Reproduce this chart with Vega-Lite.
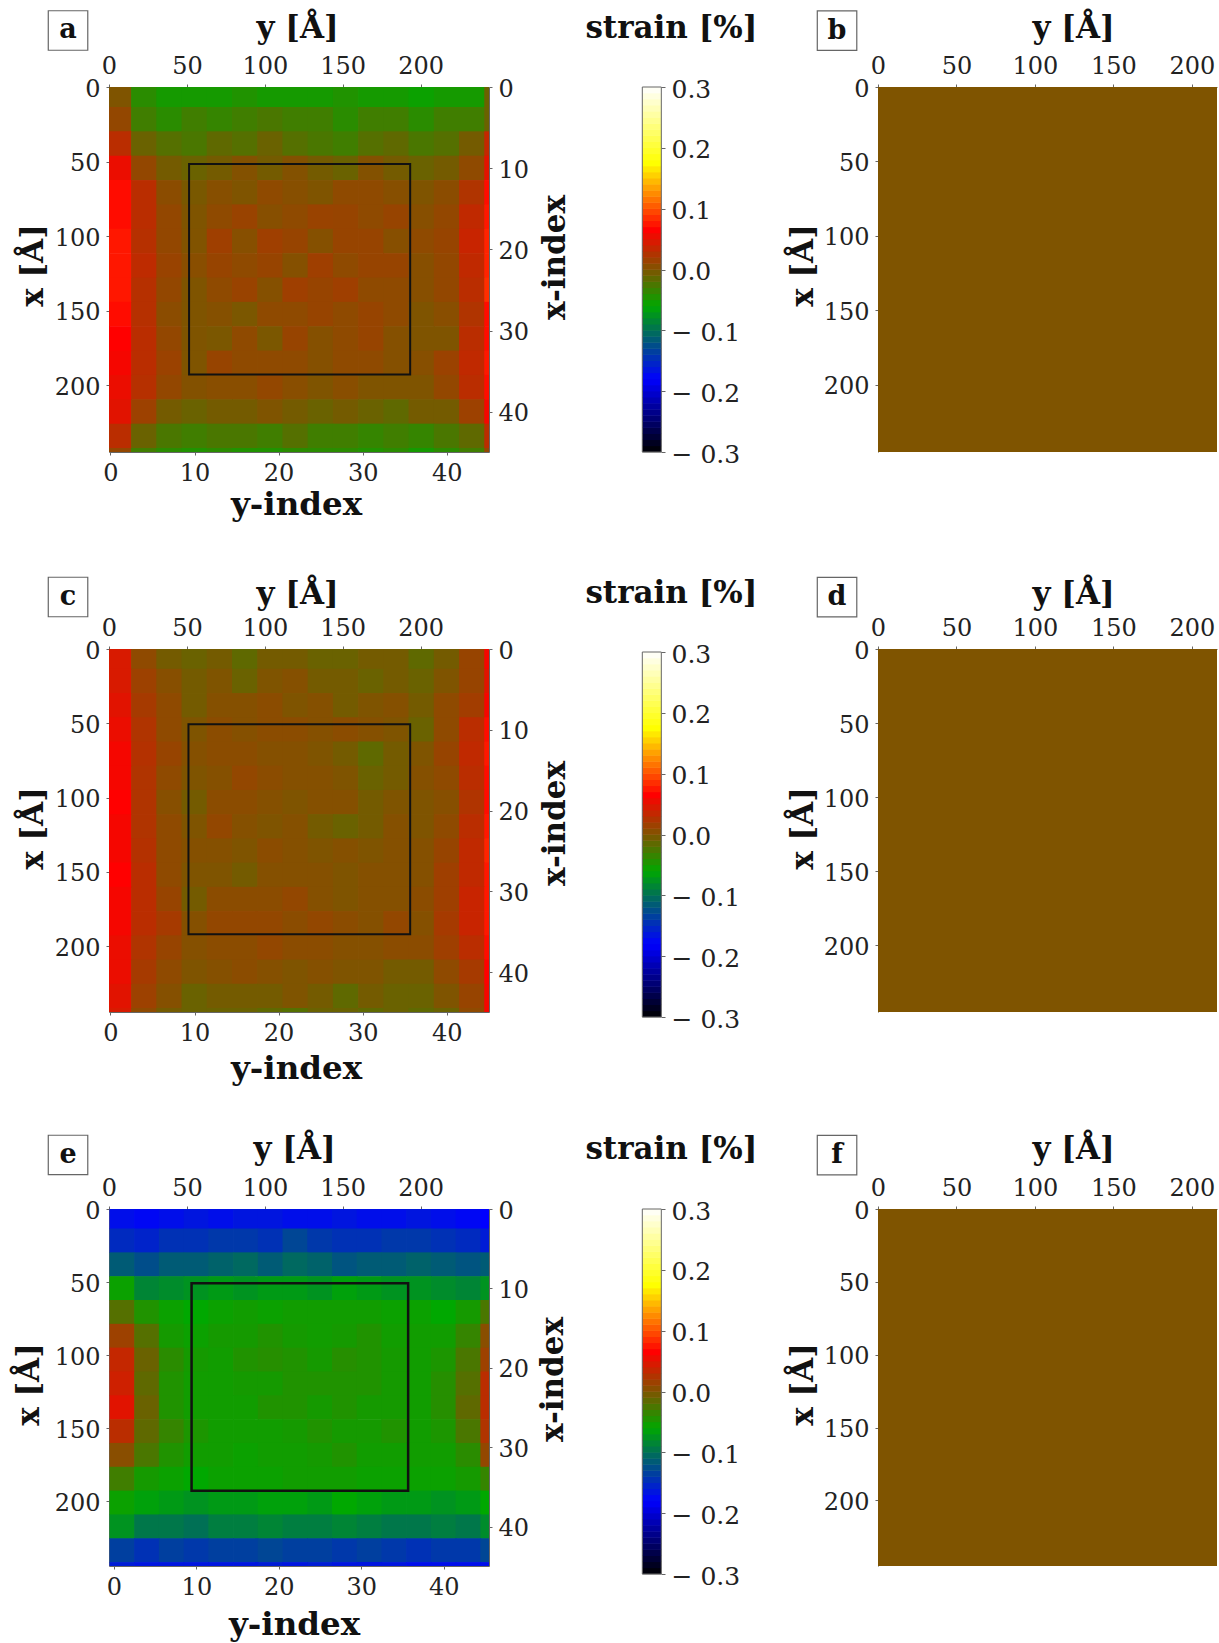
{"$schema":"https://vega.github.io/schema/vega-lite/v6.json","autosize":{"type":"none"},"padding":{"left":109,"top":87,"right":1110,"bottom":1556},"background":"white","bounds":"flush","align":"each","columns":2,"spacing":{"row":197,"column":389},
"config":{"view":{"stroke":null},"axis":{"grid":false,"labelFont":"DejaVu Serif","labelFontSize":24,"labelColor":"#222","titleFont":"DejaVu Serif","titleFontWeight":"bold","titleFontSize":31,"titleColor":"#111","domainColor":"#666","tickColor":"#666","tickSize":3,"labelPadding":6,"labelFlush":false,"labelOverlap":false,"titleBaseline":"middle","titleAlign":"center"},"rect":{"strokeWidth":0}},
"datasets":{
"bar":[{"v":-0.295},{"v":-0.285},{"v":-0.275},{"v":-0.265},{"v":-0.255},{"v":-0.245},{"v":-0.235},{"v":-0.225},{"v":-0.215},{"v":-0.205},{"v":-0.195},{"v":-0.185},{"v":-0.175},{"v":-0.165},{"v":-0.155},{"v":-0.145},{"v":-0.135},{"v":-0.125},{"v":-0.115},{"v":-0.105},{"v":-0.095},{"v":-0.085},{"v":-0.075},{"v":-0.065},{"v":-0.055},{"v":-0.045},{"v":-0.035},{"v":-0.025},{"v":-0.015},{"v":-0.005},{"v":0.005},{"v":0.015},{"v":0.025},{"v":0.035},{"v":0.045},{"v":0.055},{"v":0.065},{"v":0.075},{"v":0.085},{"v":0.095},{"v":0.105},{"v":0.115},{"v":0.125},{"v":0.135},{"v":0.145},{"v":0.155},{"v":0.165},{"v":0.175},{"v":0.185},{"v":0.195},{"v":0.205},{"v":0.215},{"v":0.225},{"v":0.235},{"v":0.245},{"v":0.255},{"v":0.265},{"v":0.275},{"v":0.285},{"v":0.295}],
"a":[
{"i":1,"j":1,"v":0},{"i":4,"j":1,"v":-0.04},{"i":7,"j":1,"v":-0.05},{"i":10,"j":1,"v":-0.05},{"i":13,"j":1,"v":-0.05},{"i":16,"j":1,"v":-0.045},{"i":19,"j":1,"v":-0.05},{"i":22,"j":1,"v":-0.05},{"i":25,"j":1,"v":-0.05},{"i":28,"j":1,"v":-0.045},{"i":31,"j":1,"v":-0.05},{"i":34,"j":1,"v":-0.05},{"i":37,"j":1,"v":-0.055},{"i":40,"j":1,"v":-0.05},{"i":43,"j":1,"v":-0.05},{"i":46,"j":1,"v":-0.01},
{"i":1,"j":4,"v":0.01},{"i":4,"j":4,"v":-0.03},{"i":7,"j":4,"v":-0.04},{"i":10,"j":4,"v":-0.03},{"i":13,"j":4,"v":-0.035},{"i":16,"j":4,"v":-0.03},{"i":19,"j":4,"v":-0.025},{"i":22,"j":4,"v":-0.03},{"i":25,"j":4,"v":-0.03},{"i":28,"j":4,"v":-0.04},{"i":31,"j":4,"v":-0.03},{"i":34,"j":4,"v":-0.03},{"i":37,"j":4,"v":-0.04},{"i":40,"j":4,"v":-0.03},{"i":43,"j":4,"v":-0.03},{"i":46,"j":4,"v":-0.01},
{"i":1,"j":7,"v":0.03},{"i":4,"j":7,"v":-0.01},{"i":7,"j":7,"v":-0.02},{"i":10,"j":7,"v":-0.025},{"i":13,"j":7,"v":-0.015},{"i":16,"j":7,"v":-0.02},{"i":19,"j":7,"v":-0.01},{"i":22,"j":7,"v":-0.02},{"i":25,"j":7,"v":-0.025},{"i":28,"j":7,"v":-0.03},{"i":31,"j":7,"v":-0.02},{"i":34,"j":7,"v":-0.015},{"i":37,"j":7,"v":-0.025},{"i":40,"j":7,"v":-0.02},{"i":43,"j":7,"v":-0.005},{"i":46,"j":7,"v":0.035},
{"i":1,"j":10,"v":0.055},{"i":4,"j":10,"v":0.01},{"i":7,"j":10,"v":-0.005},{"i":10,"j":10,"v":-0.01},{"i":13,"j":10,"v":-0.005},{"i":16,"j":10,"v":0.002},{"i":19,"j":10,"v":-0.005},{"i":22,"j":10,"v":0.002},{"i":25,"j":10,"v":-0.005},{"i":28,"j":10,"v":-0.01},{"i":31,"j":10,"v":0.002},{"i":34,"j":10,"v":-0.005},{"i":37,"j":10,"v":-0.01},{"i":40,"j":10,"v":-0.005},{"i":43,"j":10,"v":0.008},{"i":46,"j":10,"v":0.05},
{"i":1,"j":13,"v":0.07},{"i":4,"j":13,"v":0.03},{"i":7,"j":13,"v":0.006},{"i":10,"j":13,"v":-0.003},{"i":13,"j":13,"v":0.004},{"i":16,"j":13,"v":0},{"i":19,"j":13,"v":0.008},{"i":22,"j":13,"v":0.004},{"i":25,"j":13,"v":0},{"i":28,"j":13,"v":0.008},{"i":31,"j":13,"v":0.008},{"i":34,"j":13,"v":0.004},{"i":37,"j":13,"v":0},{"i":40,"j":13,"v":0.006},{"i":43,"j":13,"v":0.025},{"i":46,"j":13,"v":0.07},
{"i":1,"j":16,"v":0.07},{"i":4,"j":16,"v":0.03},{"i":7,"j":16,"v":0.01},{"i":10,"j":16,"v":0},{"i":13,"j":16,"v":0.008},{"i":16,"j":16,"v":0.013},{"i":19,"j":16,"v":0.004},{"i":22,"j":16,"v":0.008},{"i":25,"j":16,"v":0.013},{"i":28,"j":16,"v":0.012},{"i":31,"j":16,"v":0.008},{"i":34,"j":16,"v":0.012},{"i":37,"j":16,"v":0.004},{"i":40,"j":16,"v":0.01},{"i":43,"j":16,"v":0.033},{"i":46,"j":16,"v":0.075},
{"i":1,"j":19,"v":0.075},{"i":4,"j":19,"v":0.028},{"i":7,"j":19,"v":0.01},{"i":10,"j":19,"v":0.001},{"i":13,"j":19,"v":0.016},{"i":16,"j":19,"v":0.004},{"i":19,"j":19,"v":0.016},{"i":22,"j":19,"v":0.012},{"i":25,"j":19,"v":0.003},{"i":28,"j":19,"v":0.012},{"i":31,"j":19,"v":0.012},{"i":34,"j":19,"v":0.004},{"i":37,"j":19,"v":0.008},{"i":40,"j":19,"v":0.012},{"i":43,"j":19,"v":0.037},{"i":46,"j":19,"v":0.08},
{"i":1,"j":22,"v":0.075},{"i":4,"j":22,"v":0.032},{"i":7,"j":22,"v":0.013},{"i":10,"j":22,"v":0.005},{"i":13,"j":22,"v":0.012},{"i":16,"j":22,"v":0.008},{"i":19,"j":22,"v":0.012},{"i":22,"j":22,"v":0.003},{"i":25,"j":22,"v":0.016},{"i":28,"j":22,"v":0.008},{"i":31,"j":22,"v":0.012},{"i":34,"j":22,"v":0.012},{"i":37,"j":22,"v":0.004},{"i":40,"j":22,"v":0.01},{"i":43,"j":22,"v":0.033},{"i":46,"j":22,"v":0.08},
{"i":1,"j":25,"v":0.075},{"i":4,"j":25,"v":0.028},{"i":7,"j":25,"v":0.01},{"i":10,"j":25,"v":0},{"i":13,"j":25,"v":0.008},{"i":16,"j":25,"v":0.013},{"i":19,"j":25,"v":0.003},{"i":22,"j":25,"v":0.016},{"i":25,"j":25,"v":0.012},{"i":28,"j":25,"v":0.016},{"i":31,"j":25,"v":0.008},{"i":34,"j":25,"v":0.008},{"i":37,"j":25,"v":0.004},{"i":40,"j":25,"v":0.01},{"i":43,"j":25,"v":0.03},{"i":46,"j":25,"v":0.085},
{"i":1,"j":28,"v":0.07},{"i":4,"j":28,"v":0.028},{"i":7,"j":28,"v":0.006},{"i":10,"j":28,"v":0},{"i":13,"j":28,"v":0.003},{"i":16,"j":28,"v":-0.002},{"i":19,"j":28,"v":0.008},{"i":22,"j":28,"v":0.008},{"i":25,"j":28,"v":0.012},{"i":28,"j":28,"v":0.008},{"i":31,"j":28,"v":0.012},{"i":34,"j":28,"v":0.008},{"i":37,"j":28,"v":0},{"i":40,"j":28,"v":0.005},{"i":43,"j":28,"v":0.025},{"i":46,"j":28,"v":0.07},
{"i":1,"j":31,"v":0.065},{"i":4,"j":31,"v":0.03},{"i":7,"j":31,"v":0.01},{"i":10,"j":31,"v":0},{"i":13,"j":31,"v":-0.002},{"i":16,"j":31,"v":0.008},{"i":19,"j":31,"v":-0.002},{"i":22,"j":31,"v":0.012},{"i":25,"j":31,"v":0.003},{"i":28,"j":31,"v":0.008},{"i":31,"j":31,"v":0.012},{"i":34,"j":31,"v":0.003},{"i":37,"j":31,"v":0},{"i":40,"j":31,"v":0},{"i":43,"j":31,"v":0.03},{"i":46,"j":31,"v":0.07},
{"i":1,"j":34,"v":0.06},{"i":4,"j":34,"v":0.03},{"i":7,"j":34,"v":0.014},{"i":10,"j":34,"v":0},{"i":13,"j":34,"v":0.012},{"i":16,"j":34,"v":0.008},{"i":19,"j":34,"v":0.008},{"i":22,"j":34,"v":0.008},{"i":25,"j":34,"v":0.003},{"i":28,"j":34,"v":0.008},{"i":31,"j":34,"v":0.008},{"i":34,"j":34,"v":0.003},{"i":37,"j":34,"v":0.004},{"i":40,"j":34,"v":0.014},{"i":43,"j":34,"v":0.033},{"i":46,"j":34,"v":0.075},
{"i":1,"j":37,"v":0.055},{"i":4,"j":37,"v":0.028},{"i":7,"j":37,"v":0.01},{"i":10,"j":37,"v":0.002},{"i":13,"j":37,"v":0.005},{"i":16,"j":37,"v":0.005},{"i":19,"j":37,"v":0.01},{"i":22,"j":37,"v":0.005},{"i":25,"j":37,"v":0},{"i":28,"j":37,"v":0.005},{"i":31,"j":37,"v":0},{"i":34,"j":37,"v":0},{"i":37,"j":37,"v":0},{"i":40,"j":37,"v":0.01},{"i":43,"j":37,"v":0.03},{"i":46,"j":37,"v":0.07},
{"i":1,"j":40,"v":0.05},{"i":4,"j":40,"v":0.015},{"i":7,"j":40,"v":-0.005},{"i":10,"j":40,"v":-0.01},{"i":13,"j":40,"v":-0.005},{"i":16,"j":40,"v":-0.005},{"i":19,"j":40,"v":0},{"i":22,"j":40,"v":-0.005},{"i":25,"j":40,"v":-0.01},{"i":28,"j":40,"v":-0.005},{"i":31,"j":40,"v":-0.01},{"i":34,"j":40,"v":-0.015},{"i":37,"j":40,"v":-0.005},{"i":40,"j":40,"v":-0.005},{"i":43,"j":40,"v":0.015},{"i":46,"j":40,"v":0.06},
{"i":1,"j":43,"v":0.03},{"i":4,"j":43,"v":-0.01},{"i":7,"j":43,"v":-0.025},{"i":10,"j":43,"v":-0.03},{"i":13,"j":43,"v":-0.025},{"i":16,"j":43,"v":-0.025},{"i":19,"j":43,"v":-0.03},{"i":22,"j":43,"v":-0.02},{"i":25,"j":43,"v":-0.03},{"i":28,"j":43,"v":-0.03},{"i":31,"j":43,"v":-0.035},{"i":34,"j":43,"v":-0.03},{"i":37,"j":43,"v":-0.035},{"i":40,"j":43,"v":-0.025},{"i":43,"j":43,"v":-0.015},{"i":46,"j":43,"v":0.03},
{"i":1,"j":46,"v":0.01},{"i":4,"j":46,"v":-0.03},{"i":7,"j":46,"v":-0.04},{"i":10,"j":46,"v":-0.045},{"i":13,"j":46,"v":-0.04},{"i":16,"j":46,"v":-0.045},{"i":19,"j":46,"v":-0.045},{"i":22,"j":46,"v":-0.04},{"i":25,"j":46,"v":-0.04},{"i":28,"j":46,"v":-0.04},{"i":31,"j":46,"v":-0.045},{"i":34,"j":46,"v":-0.04},{"i":37,"j":46,"v":-0.05},{"i":40,"j":46,"v":-0.04},{"i":43,"j":46,"v":-0.03},{"i":46,"j":46,"v":0.01}],
"c":[
{"i":1,"j":1,"v":0.045},{"i":4,"j":1,"v":0.008},{"i":7,"j":1,"v":-0.005},{"i":10,"j":1,"v":-0.01},{"i":13,"j":1,"v":-0.005},{"i":16,"j":1,"v":-0.015},{"i":19,"j":1,"v":-0.005},{"i":22,"j":1,"v":-0.005},{"i":25,"j":1,"v":-0.01},{"i":28,"j":1,"v":-0.01},{"i":31,"j":1,"v":-0.005},{"i":34,"j":1,"v":-0.005},{"i":37,"j":1,"v":-0.015},{"i":40,"j":1,"v":-0.005},{"i":43,"j":1,"v":0.012},{"i":46,"j":1,"v":0.06},
{"i":1,"j":4,"v":0.045},{"i":4,"j":4,"v":0.015},{"i":7,"j":4,"v":0.004},{"i":10,"j":4,"v":-0.005},{"i":13,"j":4,"v":0},{"i":16,"j":4,"v":-0.01},{"i":19,"j":4,"v":0},{"i":22,"j":4,"v":0.003},{"i":25,"j":4,"v":-0.005},{"i":28,"j":4,"v":-0.005},{"i":31,"j":4,"v":-0.01},{"i":34,"j":4,"v":-0.005},{"i":37,"j":4,"v":-0.01},{"i":40,"j":4,"v":0},{"i":43,"j":4,"v":0.012},{"i":46,"j":4,"v":0.05},
{"i":1,"j":7,"v":0.05},{"i":4,"j":7,"v":0.02},{"i":7,"j":7,"v":0.008},{"i":10,"j":7,"v":-0.005},{"i":13,"j":7,"v":0.003},{"i":16,"j":7,"v":0.003},{"i":19,"j":7,"v":0.006},{"i":22,"j":7,"v":0},{"i":25,"j":7,"v":0.003},{"i":28,"j":7,"v":-0.005},{"i":31,"j":7,"v":0},{"i":34,"j":7,"v":0.003},{"i":37,"j":7,"v":-0.005},{"i":40,"j":7,"v":0.008},{"i":43,"j":7,"v":0.018},{"i":46,"j":7,"v":0.06},
{"i":1,"j":10,"v":0.055},{"i":4,"j":10,"v":0.025},{"i":7,"j":10,"v":0.008},{"i":10,"j":10,"v":0},{"i":13,"j":10,"v":0.006},{"i":16,"j":10,"v":0.003},{"i":19,"j":10,"v":0.006},{"i":22,"j":10,"v":0.006},{"i":25,"j":10,"v":0.003},{"i":28,"j":10,"v":0.006},{"i":31,"j":10,"v":0.003},{"i":34,"j":10,"v":0},{"i":37,"j":10,"v":-0.01},{"i":40,"j":10,"v":0.008},{"i":43,"j":10,"v":0.03},{"i":46,"j":10,"v":0.07},
{"i":1,"j":13,"v":0.06},{"i":4,"j":13,"v":0.027},{"i":7,"j":13,"v":0.012},{"i":10,"j":13,"v":0.003},{"i":13,"j":13,"v":0.006},{"i":16,"j":13,"v":0.006},{"i":19,"j":13,"v":0.003},{"i":22,"j":13,"v":0.003},{"i":25,"j":13,"v":0},{"i":28,"j":13,"v":-0.005},{"i":31,"j":13,"v":-0.015},{"i":34,"j":13,"v":-0.005},{"i":37,"j":13,"v":0},{"i":40,"j":13,"v":0.012},{"i":43,"j":13,"v":0.033},{"i":46,"j":13,"v":0.075},
{"i":1,"j":16,"v":0.06},{"i":4,"j":16,"v":0.025},{"i":7,"j":16,"v":0.008},{"i":10,"j":16,"v":0},{"i":13,"j":16,"v":0.003},{"i":16,"j":16,"v":0.01},{"i":19,"j":16,"v":0.006},{"i":22,"j":16,"v":0.003},{"i":25,"j":16,"v":0.003},{"i":28,"j":16,"v":0},{"i":31,"j":16,"v":-0.01},{"i":34,"j":16,"v":-0.005},{"i":37,"j":16,"v":0.003},{"i":40,"j":16,"v":0.008},{"i":43,"j":16,"v":0.03},{"i":46,"j":16,"v":0.07},
{"i":1,"j":19,"v":0.065},{"i":4,"j":19,"v":0.025},{"i":7,"j":19,"v":0.004},{"i":10,"j":19,"v":-0.005},{"i":13,"j":19,"v":0.006},{"i":16,"j":19,"v":0.006},{"i":19,"j":19,"v":0.003},{"i":22,"j":19,"v":0},{"i":25,"j":19,"v":0.003},{"i":28,"j":19,"v":0.003},{"i":31,"j":19,"v":-0.005},{"i":34,"j":19,"v":0},{"i":37,"j":19,"v":0},{"i":40,"j":19,"v":0.004},{"i":43,"j":19,"v":0.025},{"i":46,"j":19,"v":0.07},
{"i":1,"j":22,"v":0.06},{"i":4,"j":22,"v":0.025},{"i":7,"j":22,"v":0.008},{"i":10,"j":22,"v":0},{"i":13,"j":22,"v":0.01},{"i":16,"j":22,"v":0.003},{"i":19,"j":22,"v":0},{"i":22,"j":22,"v":0.003},{"i":25,"j":22,"v":-0.005},{"i":28,"j":22,"v":-0.01},{"i":31,"j":22,"v":-0.005},{"i":34,"j":22,"v":0.003},{"i":37,"j":22,"v":0},{"i":40,"j":22,"v":0.008},{"i":43,"j":22,"v":0.03},{"i":46,"j":22,"v":0.075},
{"i":1,"j":25,"v":0.06},{"i":4,"j":25,"v":0.027},{"i":7,"j":25,"v":0.008},{"i":10,"j":25,"v":0.003},{"i":13,"j":25,"v":0.003},{"i":16,"j":25,"v":0},{"i":19,"j":25,"v":0.006},{"i":22,"j":25,"v":0.003},{"i":25,"j":25,"v":0},{"i":28,"j":25,"v":0.003},{"i":31,"j":25,"v":0},{"i":34,"j":25,"v":0.003},{"i":37,"j":25,"v":0.003},{"i":40,"j":25,"v":0.012},{"i":43,"j":25,"v":0.033},{"i":46,"j":25,"v":0.08},
{"i":1,"j":28,"v":0.065},{"i":4,"j":28,"v":0.03},{"i":7,"j":28,"v":0.008},{"i":10,"j":28,"v":0},{"i":13,"j":28,"v":0},{"i":16,"j":28,"v":-0.005},{"i":19,"j":28,"v":0.003},{"i":22,"j":28,"v":0.003},{"i":25,"j":28,"v":0.003},{"i":28,"j":28,"v":0},{"i":31,"j":28,"v":0.003},{"i":34,"j":28,"v":0.003},{"i":37,"j":28,"v":0.003},{"i":40,"j":28,"v":0.016},{"i":43,"j":28,"v":0.033},{"i":46,"j":28,"v":0.075},
{"i":1,"j":31,"v":0.06},{"i":4,"j":31,"v":0.03},{"i":7,"j":31,"v":0.012},{"i":10,"j":31,"v":-0.005},{"i":13,"j":31,"v":0.006},{"i":16,"j":31,"v":0.006},{"i":19,"j":31,"v":0.006},{"i":22,"j":31,"v":0.01},{"i":25,"j":31,"v":0.003},{"i":28,"j":31,"v":0},{"i":31,"j":31,"v":0.003},{"i":34,"j":31,"v":0.003},{"i":37,"j":31,"v":0.006},{"i":40,"j":31,"v":0.016},{"i":43,"j":31,"v":0.037},{"i":46,"j":31,"v":0.075},
{"i":1,"j":34,"v":0.06},{"i":4,"j":34,"v":0.03},{"i":7,"j":34,"v":0.02},{"i":10,"j":34,"v":0.003},{"i":13,"j":34,"v":0.01},{"i":16,"j":34,"v":0.01},{"i":19,"j":34,"v":0.01},{"i":22,"j":34,"v":0.006},{"i":25,"j":34,"v":0.01},{"i":28,"j":34,"v":0.006},{"i":31,"j":34,"v":0.003},{"i":34,"j":34,"v":0.01},{"i":37,"j":34,"v":0.003},{"i":40,"j":34,"v":0.02},{"i":43,"j":34,"v":0.037},{"i":46,"j":34,"v":0.075},
{"i":1,"j":37,"v":0.055},{"i":4,"j":37,"v":0.025},{"i":7,"j":37,"v":0.012},{"i":10,"j":37,"v":0.003},{"i":13,"j":37,"v":0.006},{"i":16,"j":37,"v":0.006},{"i":19,"j":37,"v":0.01},{"i":22,"j":37,"v":0.006},{"i":25,"j":37,"v":0.006},{"i":28,"j":37,"v":0.003},{"i":31,"j":37,"v":0.003},{"i":34,"j":37,"v":0.006},{"i":37,"j":37,"v":0.006},{"i":40,"j":37,"v":0.016},{"i":43,"j":37,"v":0.03},{"i":46,"j":37,"v":0.07},
{"i":1,"j":40,"v":0.055},{"i":4,"j":40,"v":0.02},{"i":7,"j":40,"v":0.008},{"i":10,"j":40,"v":0},{"i":13,"j":40,"v":0.003},{"i":16,"j":40,"v":0.006},{"i":19,"j":40,"v":0.003},{"i":22,"j":40,"v":0},{"i":25,"j":40,"v":0.003},{"i":28,"j":40,"v":0},{"i":31,"j":40,"v":0},{"i":34,"j":40,"v":-0.005},{"i":37,"j":40,"v":-0.005},{"i":40,"j":40,"v":0.008},{"i":43,"j":40,"v":0.02},{"i":46,"j":40,"v":0.065},
{"i":1,"j":43,"v":0.05},{"i":4,"j":43,"v":0.015},{"i":7,"j":43,"v":0.003},{"i":10,"j":43,"v":-0.01},{"i":13,"j":43,"v":-0.005},{"i":16,"j":43,"v":-0.005},{"i":19,"j":43,"v":-0.005},{"i":22,"j":43,"v":0},{"i":25,"j":43,"v":-0.005},{"i":28,"j":43,"v":-0.015},{"i":31,"j":43,"v":-0.005},{"i":34,"j":43,"v":-0.01},{"i":37,"j":43,"v":-0.01},{"i":40,"j":43,"v":0},{"i":43,"j":43,"v":0.012},{"i":46,"j":43,"v":0.06},
{"i":1,"j":46,"v":0.045},{"i":4,"j":46,"v":0.008},{"i":7,"j":46,"v":-0.005},{"i":10,"j":46,"v":-0.01},{"i":13,"j":46,"v":-0.01},{"i":16,"j":46,"v":-0.01},{"i":19,"j":46,"v":-0.015},{"i":22,"j":46,"v":-0.02},{"i":25,"j":46,"v":-0.01},{"i":28,"j":46,"v":-0.01},{"i":31,"j":46,"v":-0.015},{"i":34,"j":46,"v":-0.01},{"i":37,"j":46,"v":-0.015},{"i":40,"j":46,"v":-0.01},{"i":43,"j":46,"v":0.008},{"i":46,"j":46,"v":0.06}],
"e":[
{"i":1,"j":1,"v":-0.17},{"i":4,"j":1,"v":-0.175},{"i":7,"j":1,"v":-0.17},{"i":10,"j":1,"v":-0.165},{"i":13,"j":1,"v":-0.17},{"i":16,"j":1,"v":-0.165},{"i":19,"j":1,"v":-0.165},{"i":22,"j":1,"v":-0.17},{"i":25,"j":1,"v":-0.17},{"i":28,"j":1,"v":-0.165},{"i":31,"j":1,"v":-0.17},{"i":34,"j":1,"v":-0.17},{"i":37,"j":1,"v":-0.165},{"i":40,"j":1,"v":-0.17},{"i":43,"j":1,"v":-0.175},{"i":46,"j":1,"v":-0.18},
{"i":1,"j":4,"v":-0.15},{"i":4,"j":4,"v":-0.155},{"i":7,"j":4,"v":-0.145},{"i":10,"j":4,"v":-0.145},{"i":13,"j":4,"v":-0.14},{"i":16,"j":4,"v":-0.14},{"i":19,"j":4,"v":-0.145},{"i":22,"j":4,"v":-0.13},{"i":25,"j":4,"v":-0.14},{"i":28,"j":4,"v":-0.145},{"i":31,"j":4,"v":-0.145},{"i":34,"j":4,"v":-0.14},{"i":37,"j":4,"v":-0.14},{"i":40,"j":4,"v":-0.145},{"i":43,"j":4,"v":-0.15},{"i":46,"j":4,"v":-0.16},
{"i":1,"j":7,"v":-0.115},{"i":4,"j":7,"v":-0.125},{"i":7,"j":7,"v":-0.115},{"i":10,"j":7,"v":-0.115},{"i":13,"j":7,"v":-0.11},{"i":16,"j":7,"v":-0.105},{"i":19,"j":7,"v":-0.115},{"i":22,"j":7,"v":-0.105},{"i":25,"j":7,"v":-0.11},{"i":28,"j":7,"v":-0.12},{"i":31,"j":7,"v":-0.115},{"i":34,"j":7,"v":-0.115},{"i":37,"j":7,"v":-0.11},{"i":40,"j":7,"v":-0.115},{"i":43,"j":7,"v":-0.12},{"i":46,"j":7,"v":-0.115},
{"i":1,"j":10,"v":-0.055},{"i":4,"j":10,"v":-0.085},{"i":7,"j":10,"v":-0.08},{"i":10,"j":10,"v":-0.075},{"i":13,"j":10,"v":-0.07},{"i":16,"j":10,"v":-0.075},{"i":19,"j":10,"v":-0.07},{"i":22,"j":10,"v":-0.07},{"i":25,"j":10,"v":-0.075},{"i":28,"j":10,"v":-0.065},{"i":31,"j":10,"v":-0.07},{"i":34,"j":10,"v":-0.075},{"i":37,"j":10,"v":-0.075},{"i":40,"j":10,"v":-0.08},{"i":43,"j":10,"v":-0.085},{"i":46,"j":10,"v":-0.075},
{"i":1,"j":13,"v":-0.02},{"i":4,"j":13,"v":-0.045},{"i":7,"j":13,"v":-0.055},{"i":10,"j":13,"v":-0.06},{"i":13,"j":13,"v":-0.055},{"i":16,"j":13,"v":-0.052},{"i":19,"j":13,"v":-0.055},{"i":22,"j":13,"v":-0.052},{"i":25,"j":13,"v":-0.052},{"i":28,"j":13,"v":-0.052},{"i":31,"j":13,"v":-0.052},{"i":34,"j":13,"v":-0.055},{"i":37,"j":13,"v":-0.055},{"i":40,"j":13,"v":-0.06},{"i":43,"j":13,"v":-0.05},{"i":46,"j":13,"v":-0.025},
{"i":1,"j":16,"v":0.015},{"i":4,"j":16,"v":-0.02},{"i":7,"j":16,"v":-0.05},{"i":10,"j":16,"v":-0.055},{"i":13,"j":16,"v":-0.05},{"i":16,"j":16,"v":-0.05},{"i":19,"j":16,"v":-0.045},{"i":22,"j":16,"v":-0.05},{"i":25,"j":16,"v":-0.052},{"i":28,"j":16,"v":-0.05},{"i":31,"j":16,"v":-0.045},{"i":34,"j":16,"v":-0.052},{"i":37,"j":16,"v":-0.052},{"i":40,"j":16,"v":-0.052},{"i":43,"j":16,"v":-0.035},{"i":46,"j":16,"v":0.005},
{"i":1,"j":19,"v":0.035},{"i":4,"j":19,"v":-0.01},{"i":7,"j":19,"v":-0.04},{"i":10,"j":19,"v":-0.05},{"i":13,"j":19,"v":-0.052},{"i":16,"j":19,"v":-0.045},{"i":19,"j":19,"v":-0.042},{"i":22,"j":19,"v":-0.045},{"i":25,"j":19,"v":-0.05},{"i":28,"j":19,"v":-0.042},{"i":31,"j":19,"v":-0.045},{"i":34,"j":19,"v":-0.05},{"i":37,"j":19,"v":-0.052},{"i":40,"j":19,"v":-0.047},{"i":43,"j":19,"v":-0.025},{"i":46,"j":19,"v":0.015},
{"i":1,"j":22,"v":0.04},{"i":4,"j":22,"v":-0.015},{"i":7,"j":22,"v":-0.045},{"i":10,"j":22,"v":-0.052},{"i":13,"j":22,"v":-0.052},{"i":16,"j":22,"v":-0.05},{"i":19,"j":22,"v":-0.05},{"i":22,"j":22,"v":-0.045},{"i":25,"j":22,"v":-0.045},{"i":28,"j":22,"v":-0.045},{"i":31,"j":22,"v":-0.045},{"i":34,"j":22,"v":-0.05},{"i":37,"j":22,"v":-0.052},{"i":40,"j":22,"v":-0.042},{"i":43,"j":22,"v":-0.02},{"i":46,"j":22,"v":0.03},
{"i":1,"j":25,"v":0.05},{"i":4,"j":25,"v":-0.01},{"i":7,"j":25,"v":-0.045},{"i":10,"j":25,"v":-0.052},{"i":13,"j":25,"v":-0.052},{"i":16,"j":25,"v":-0.052},{"i":19,"j":25,"v":-0.045},{"i":22,"j":25,"v":-0.045},{"i":25,"j":25,"v":-0.05},{"i":28,"j":25,"v":-0.045},{"i":31,"j":25,"v":-0.05},{"i":34,"j":25,"v":-0.05},{"i":37,"j":25,"v":-0.052},{"i":40,"j":25,"v":-0.042},{"i":43,"j":25,"v":-0.015},{"i":46,"j":25,"v":0.03},
{"i":1,"j":28,"v":0.03},{"i":4,"j":28,"v":-0.015},{"i":7,"j":28,"v":-0.035},{"i":10,"j":28,"v":-0.047},{"i":13,"j":28,"v":-0.052},{"i":16,"j":28,"v":-0.052},{"i":19,"j":28,"v":-0.052},{"i":22,"j":28,"v":-0.05},{"i":25,"j":28,"v":-0.045},{"i":28,"j":28,"v":-0.05},{"i":31,"j":28,"v":-0.05},{"i":34,"j":28,"v":-0.045},{"i":37,"j":28,"v":-0.052},{"i":40,"j":28,"v":-0.047},{"i":43,"j":28,"v":-0.025},{"i":46,"j":28,"v":0.025},
{"i":1,"j":31,"v":0.005},{"i":4,"j":31,"v":-0.025},{"i":7,"j":31,"v":-0.045},{"i":10,"j":31,"v":-0.052},{"i":13,"j":31,"v":-0.052},{"i":16,"j":31,"v":-0.055},{"i":19,"j":31,"v":-0.052},{"i":22,"j":31,"v":-0.052},{"i":25,"j":31,"v":-0.05},{"i":28,"j":31,"v":-0.045},{"i":31,"j":31,"v":-0.052},{"i":34,"j":31,"v":-0.052},{"i":37,"j":31,"v":-0.052},{"i":40,"j":31,"v":-0.052},{"i":43,"j":31,"v":-0.04},{"i":46,"j":31,"v":0.01},
{"i":1,"j":34,"v":-0.03},{"i":4,"j":34,"v":-0.05},{"i":7,"j":34,"v":-0.055},{"i":10,"j":34,"v":-0.06},{"i":13,"j":34,"v":-0.055},{"i":16,"j":34,"v":-0.055},{"i":19,"j":34,"v":-0.055},{"i":22,"j":34,"v":-0.052},{"i":25,"j":34,"v":-0.052},{"i":28,"j":34,"v":-0.052},{"i":31,"j":34,"v":-0.055},{"i":34,"j":34,"v":-0.055},{"i":37,"j":34,"v":-0.055},{"i":40,"j":34,"v":-0.055},{"i":43,"j":34,"v":-0.05},{"i":46,"j":34,"v":-0.035},
{"i":1,"j":37,"v":-0.055},{"i":4,"j":37,"v":-0.065},{"i":7,"j":37,"v":-0.07},{"i":10,"j":37,"v":-0.075},{"i":13,"j":37,"v":-0.07},{"i":16,"j":37,"v":-0.07},{"i":19,"j":37,"v":-0.065},{"i":22,"j":37,"v":-0.065},{"i":25,"j":37,"v":-0.07},{"i":28,"j":37,"v":-0.06},{"i":31,"j":37,"v":-0.065},{"i":34,"j":37,"v":-0.07},{"i":37,"j":37,"v":-0.07},{"i":40,"j":37,"v":-0.075},{"i":43,"j":37,"v":-0.07},{"i":46,"j":37,"v":-0.06},
{"i":1,"j":40,"v":-0.075},{"i":4,"j":40,"v":-0.095},{"i":7,"j":40,"v":-0.095},{"i":10,"j":40,"v":-0.1},{"i":13,"j":40,"v":-0.09},{"i":16,"j":40,"v":-0.09},{"i":19,"j":40,"v":-0.085},{"i":22,"j":40,"v":-0.09},{"i":25,"j":40,"v":-0.09},{"i":28,"j":40,"v":-0.085},{"i":31,"j":40,"v":-0.09},{"i":34,"j":40,"v":-0.095},{"i":37,"j":40,"v":-0.095},{"i":40,"j":40,"v":-0.09},{"i":43,"j":40,"v":-0.095},{"i":46,"j":40,"v":-0.08},
{"i":1,"j":43,"v":-0.135},{"i":4,"j":43,"v":-0.145},{"i":7,"j":43,"v":-0.135},{"i":10,"j":43,"v":-0.14},{"i":13,"j":43,"v":-0.135},{"i":16,"j":43,"v":-0.135},{"i":19,"j":43,"v":-0.13},{"i":22,"j":43,"v":-0.135},{"i":25,"j":43,"v":-0.135},{"i":28,"j":43,"v":-0.14},{"i":31,"j":43,"v":-0.135},{"i":34,"j":43,"v":-0.14},{"i":37,"j":43,"v":-0.145},{"i":40,"j":43,"v":-0.14},{"i":43,"j":43,"v":-0.14},{"i":46,"j":43,"v":-0.13},
{"i":1,"j":46,"v":-0.16},{"i":4,"j":46,"v":-0.165},{"i":7,"j":46,"v":-0.165},{"i":10,"j":46,"v":-0.165},{"i":13,"j":46,"v":-0.165},{"i":16,"j":46,"v":-0.165},{"i":19,"j":46,"v":-0.16},{"i":22,"j":46,"v":-0.165},{"i":25,"j":46,"v":-0.16},{"i":28,"j":46,"v":-0.165},{"i":31,"j":46,"v":-0.165},{"i":34,"j":46,"v":-0.165},{"i":37,"j":46,"v":-0.17},{"i":40,"j":46,"v":-0.17},{"i":43,"j":46,"v":-0.17},{"i":46,"j":46,"v":-0.17}]},
"concat":[
{"width":380,"height":365,"layer":[
{"data":{"name":"a"},"mark":{"type":"rect","width":26,"height":25,"clip":true},"encoding":{"x":{"field":"i","type":"quantitative","scale":{"domain":[-0.17,45.02],"nice":false,"zero":false},"axis":{"orient":"bottom","title":"y-index","titleFontSize":32.5,"values":[0,10,20,30,40],"titleX":187,"titleY":52}},"y":{"field":"j","type":"quantitative","scale":{"domain":[44.95,0],"nice":false,"zero":false},"axis":{"orient":"right","title":"x-index","values":[0,10,20,30,40],"titleAngle":-90,"titleX":66,"titleY":170,"labelOffset":2}},"color":{"field":"v","type":"quantitative","scale":{"domain":[-0.3,-0.18,-0.06,0,0.065,0.175,0.3],"range":["#000000","#0000ff","#00a800","#7f5400","#ff0000","#ffff00","#ffffff"],"interpolate":"rgb"},"legend":null}}},
{"data":{"values":[{"a0":51.4,"a1":193.3,"b0":51.7,"b1":192.8}]},"mark":{"type":"rect","fill":null,"stroke":"#111","strokeWidth":2},"encoding":{"x":{"field":"a0","type":"quantitative","scale":{"domain":[0,243.9],"nice":false,"zero":false},"axis":{"orient":"top","title":"y [Å]","values":[0,50,100,150,200],"titleX":188,"titleY":-59}},"x2":{"field":"a1"},"y":{"field":"b0","type":"quantitative","scale":{"domain":[244.8,0],"nice":false,"zero":false},"axis":{"orient":"left","title":"x [Å]","values":[0,50,100,150,200],"titleAngle":-90,"titleX":-76,"titleY":178,"labelOffset":2}},"y2":{"field":"b1"}}},
{"data":{"name":"bar"},"mark":{"type":"rect","width":19,"height":6.6},"encoding":{"x":{"datum":348.4,"type":"quantitative","scale":{"domain":[0,243.9],"nice":false,"zero":false},"axis":null},"y":{"field":"v","type":"quantitative","scale":{"domain":[-0.3,0.3],"range":[365,0],"nice":false,"zero":false},"axis":{"orient":"right","offset":172,"title":null,"values":[-0.3,-0.2,-0.1,0,0.1,0.2,0.3],"labelExpr":"datum.value<-0.001?'− '+format(-datum.value,'.1f'):format(abs(datum.value),'.1f')","domain":false,"labelFontSize":25,"labelOffset":2,"tickSize":4}},"color":{"field":"v","type":"quantitative","scale":{"domain":[-0.3,-0.18,-0.06,0,0.065,0.175,0.3],"range":["#000000","#0000ff","#00a800","#7f5400","#ff0000","#ffff00","#ffffff"],"interpolate":"rgb"},"legend":null}}},
{"data":{"values":[{"a0":342.3,"a1":354.5,"b0":-0.3,"b1":0.3}]},"mark":{"type":"rect","fill":null,"stroke":"#666","strokeWidth":1},"encoding":{"x":{"field":"a0","type":"quantitative","scale":{"domain":[0,243.9],"nice":false,"zero":false},"axis":null},"x2":{"field":"a1"},"y":{"field":"b0","type":"quantitative","scale":{"domain":[-0.3,0.3],"range":[365,0],"nice":false,"zero":false},"axis":null},"y2":{"field":"b1"}}},
{"data":{"values":[{"t":"a"}]},"mark":{"type":"square","fill":"white","stroke":"#666","strokeWidth":1.2,"size":1560,"opacity":1},"encoding":{"x":{"datum":-26.3,"type":"quantitative","scale":{"domain":[0,243.9],"nice":false,"zero":false},"axis":null},"y":{"datum":-37.9,"type":"quantitative","scale":{"domain":[244.8,0],"nice":false,"zero":false},"axis":null}}},
{"data":{"values":[{"t":"a"}]},"mark":{"type":"text","font":"DejaVu Serif","fontWeight":"bold","fontSize":27,"color":"#111","baseline":"middle"},"encoding":{"x":{"datum":-26.3,"type":"quantitative","scale":{"domain":[0,243.9],"nice":false,"zero":false},"axis":null},"y":{"datum":-37.9,"type":"quantitative","scale":{"domain":[244.8,0],"nice":false,"zero":false},"axis":null},"text":{"field":"t"}}},
{"data":{"values":[{"t":"strain [%]"}]},"mark":{"type":"text","font":"DejaVu Serif","fontWeight":"bold","fontSize":31,"color":"#111","baseline":"middle"},"encoding":{"x":{"datum":361,"type":"quantitative","scale":{"domain":[0,243.9],"nice":false,"zero":false},"axis":null},"y":{"datum":-39,"type":"quantitative","scale":{"domain":[244.8,0],"nice":false,"zero":false},"axis":null},"text":{"field":"t"}}}
],"resolve":{"scale":{"x":"independent","y":"independent"}}},
{"width":339,"height":365,"layer":[
{"data":{"values":[{"a0":0,"a1":216,"b0":0,"b1":245,"v":0}]},"mark":{"type":"rect"},"encoding":{"x":{"field":"a0","type":"quantitative","scale":{"domain":[0,216],"nice":false,"zero":false},"axis":{"orient":"top","title":"y [Å]","values":[0,50,100,150,200],"titleX":195,"titleY":-59}},"x2":{"field":"a1"},"y":{"field":"b0","type":"quantitative","scale":{"domain":[245,0],"nice":false,"zero":false},"axis":{"orient":"left","title":"x [Å]","values":[0,50,100,150,200],"titleAngle":-90,"titleX":-75,"titleY":178,"labelOffset":2}},"y2":{"field":"b1"},"color":{"field":"v","type":"quantitative","scale":{"domain":[-0.3,-0.18,-0.06,0,0.065,0.175,0.3],"range":["#000000","#0000ff","#00a800","#7f5400","#ff0000","#ffff00","#ffffff"],"interpolate":"rgb"},"legend":null}}},
{"data":{"values":[{"t":"b"}]},"mark":{"type":"square","fill":"white","stroke":"#666","strokeWidth":1.2,"size":1560,"opacity":1},"encoding":{"x":{"datum":-26.1,"type":"quantitative","scale":{"domain":[0,216],"nice":false,"zero":false},"axis":null},"y":{"datum":-37.9,"type":"quantitative","scale":{"domain":[245,0],"nice":false,"zero":false},"axis":null}}},
{"data":{"values":[{"t":"b"}]},"mark":{"type":"text","font":"DejaVu Serif","fontWeight":"bold","fontSize":27,"color":"#111","baseline":"middle"},"encoding":{"x":{"datum":-26.1,"type":"quantitative","scale":{"domain":[0,216],"nice":false,"zero":false},"axis":null},"y":{"datum":-37.9,"type":"quantitative","scale":{"domain":[245,0],"nice":false,"zero":false},"axis":null},"text":{"field":"t"}}}
],"resolve":{"scale":{"x":"independent","y":"independent"}}},
{"width":380,"height":363,"layer":[
{"data":{"name":"c"},"mark":{"type":"rect","width":26,"height":25,"clip":true},"encoding":{"x":{"field":"i","type":"quantitative","scale":{"domain":[-0.17,45.02],"nice":false,"zero":false},"axis":{"orient":"bottom","title":"y-index","titleFontSize":32.5,"values":[0,10,20,30,40],"titleX":187,"titleY":56}},"y":{"field":"j","type":"quantitative","scale":{"domain":[44.95,0],"nice":false,"zero":false},"axis":{"orient":"right","title":"x-index","values":[0,10,20,30,40],"titleAngle":-90,"titleX":66,"titleY":174,"labelOffset":2}},"color":{"field":"v","type":"quantitative","scale":{"domain":[-0.3,-0.18,-0.06,0,0.065,0.175,0.3],"range":["#000000","#0000ff","#00a800","#7f5400","#ff0000","#ffff00","#ffffff"],"interpolate":"rgb"},"legend":null}}},
{"data":{"values":[{"a0":51,"a1":193.3,"b0":50.7,"b1":192}]},"mark":{"type":"rect","fill":null,"stroke":"#111","strokeWidth":2},"encoding":{"x":{"field":"a0","type":"quantitative","scale":{"domain":[0,243.9],"nice":false,"zero":false},"axis":{"orient":"top","title":"y [Å]","values":[0,50,100,150,200],"titleX":188,"titleY":-55}},"x2":{"field":"a1"},"y":{"field":"b0","type":"quantitative","scale":{"domain":[244.4,0],"nice":false,"zero":false},"axis":{"orient":"left","title":"x [Å]","values":[0,50,100,150,200],"titleAngle":-90,"titleX":-76,"titleY":179,"labelOffset":2}},"y2":{"field":"b1"}}},
{"data":{"name":"bar"},"mark":{"type":"rect","width":19,"height":6.6},"encoding":{"x":{"datum":348.4,"type":"quantitative","scale":{"domain":[0,243.9],"nice":false,"zero":false},"axis":null},"y":{"field":"v","type":"quantitative","scale":{"domain":[-0.3,0.3],"range":[368,3],"nice":false,"zero":false},"axis":{"orient":"right","offset":172,"title":null,"values":[-0.3,-0.2,-0.1,0,0.1,0.2,0.3],"labelExpr":"datum.value<-0.001?'− '+format(-datum.value,'.1f'):format(abs(datum.value),'.1f')","domain":false,"labelFontSize":25,"labelOffset":2,"tickSize":4}},"color":{"field":"v","type":"quantitative","scale":{"domain":[-0.3,-0.18,-0.06,0,0.065,0.175,0.3],"range":["#000000","#0000ff","#00a800","#7f5400","#ff0000","#ffff00","#ffffff"],"interpolate":"rgb"},"legend":null}}},
{"data":{"values":[{"a0":342.3,"a1":354.5,"b0":-0.3,"b1":0.3}]},"mark":{"type":"rect","fill":null,"stroke":"#666","strokeWidth":1},"encoding":{"x":{"field":"a0","type":"quantitative","scale":{"domain":[0,243.9],"nice":false,"zero":false},"axis":null},"x2":{"field":"a1"},"y":{"field":"b0","type":"quantitative","scale":{"domain":[-0.3,0.3],"range":[368,3],"nice":false,"zero":false},"axis":null},"y2":{"field":"b1"}}},
{"data":{"values":[{"t":"c"}]},"mark":{"type":"square","fill":"white","stroke":"#666","strokeWidth":1.2,"size":1560,"opacity":1},"encoding":{"x":{"datum":-26.3,"type":"quantitative","scale":{"domain":[0,243.9],"nice":false,"zero":false},"axis":null},"y":{"datum":-35,"type":"quantitative","scale":{"domain":[244.4,0],"nice":false,"zero":false},"axis":null}}},
{"data":{"values":[{"t":"c"}]},"mark":{"type":"text","font":"DejaVu Serif","fontWeight":"bold","fontSize":27,"color":"#111","baseline":"middle"},"encoding":{"x":{"datum":-26.3,"type":"quantitative","scale":{"domain":[0,243.9],"nice":false,"zero":false},"axis":null},"y":{"datum":-35,"type":"quantitative","scale":{"domain":[244.4,0],"nice":false,"zero":false},"axis":null},"text":{"field":"t"}}},
{"data":{"values":[{"t":"strain [%]"}]},"mark":{"type":"text","font":"DejaVu Serif","fontWeight":"bold","fontSize":31,"color":"#111","baseline":"middle"},"encoding":{"x":{"datum":361,"type":"quantitative","scale":{"domain":[0,243.9],"nice":false,"zero":false},"axis":null},"y":{"datum":-37.1,"type":"quantitative","scale":{"domain":[244.4,0],"nice":false,"zero":false},"axis":null},"text":{"field":"t"}}}
],"resolve":{"scale":{"x":"independent","y":"independent"}}},
{"width":339,"height":363,"layer":[
{"data":{"values":[{"a0":0,"a1":216,"b0":0,"b1":245,"v":0}]},"mark":{"type":"rect"},"encoding":{"x":{"field":"a0","type":"quantitative","scale":{"domain":[0,216],"nice":false,"zero":false},"axis":{"orient":"top","title":"y [Å]","values":[0,50,100,150,200],"titleX":195,"titleY":-55}},"x2":{"field":"a1"},"y":{"field":"b0","type":"quantitative","scale":{"domain":[245,0],"nice":false,"zero":false},"axis":{"orient":"left","title":"x [Å]","values":[0,50,100,150,200],"titleAngle":-90,"titleX":-75,"titleY":179,"labelOffset":2}},"y2":{"field":"b1"},"color":{"field":"v","type":"quantitative","scale":{"domain":[-0.3,-0.18,-0.06,0,0.065,0.175,0.3],"range":["#000000","#0000ff","#00a800","#7f5400","#ff0000","#ffff00","#ffffff"],"interpolate":"rgb"},"legend":null}}},
{"data":{"values":[{"t":"d"}]},"mark":{"type":"square","fill":"white","stroke":"#666","strokeWidth":1.2,"size":1560,"opacity":1},"encoding":{"x":{"datum":-26.1,"type":"quantitative","scale":{"domain":[0,216],"nice":false,"zero":false},"axis":null},"y":{"datum":-35,"type":"quantitative","scale":{"domain":[245,0],"nice":false,"zero":false},"axis":null}}},
{"data":{"values":[{"t":"d"}]},"mark":{"type":"text","font":"DejaVu Serif","fontWeight":"bold","fontSize":27,"color":"#111","baseline":"middle"},"encoding":{"x":{"datum":-26.1,"type":"quantitative","scale":{"domain":[0,216],"nice":false,"zero":false},"axis":null},"y":{"datum":-35,"type":"quantitative","scale":{"domain":[245,0],"nice":false,"zero":false},"axis":null},"text":{"field":"t"}}}
],"resolve":{"scale":{"x":"independent","y":"independent"}}},
{"width":380,"height":357,"layer":[
{"data":{"name":"e"},"mark":{"type":"rect","width":25.5,"height":24.5,"clip":true},"encoding":{"x":{"field":"i","type":"quantitative","scale":{"domain":[-0.6,45.5],"nice":false,"zero":false},"axis":{"orient":"bottom","title":"y-index","titleFontSize":32.5,"values":[0,10,20,30,40],"titleX":185,"titleY":58}},"y":{"field":"j","type":"quantitative","scale":{"domain":[44.95,0],"nice":false,"zero":false},"axis":{"orient":"right","title":"x-index","values":[0,10,20,30,40],"titleAngle":-90,"titleX":64,"titleY":170,"labelOffset":2}},"color":{"field":"v","type":"quantitative","scale":{"domain":[-0.3,-0.18,-0.06,0,0.065,0.175,0.3],"range":["#000000","#0000ff","#00a800","#7f5400","#ff0000","#ffff00","#ffffff"],"interpolate":"rgb"},"legend":null}}},
{"data":{"values":[{"a0":53,"a1":192,"b0":50.9,"b1":193}]},"mark":{"type":"rect","fill":null,"stroke":"#111","strokeWidth":2.5},"encoding":{"x":{"field":"a0","type":"quantitative","scale":{"domain":[0,243.9],"nice":false,"zero":false},"axis":{"orient":"top","title":"y [Å]","values":[0,50,100,150,200],"titleX":185,"titleY":-60}},"x2":{"field":"a1"},"y":{"field":"b0","type":"quantitative","scale":{"domain":[244.5,0],"nice":false,"zero":false},"axis":{"orient":"left","title":"x [Å]","values":[0,50,100,150,200],"titleAngle":-90,"titleX":-80,"titleY":175,"labelOffset":2}},"y2":{"field":"b1"}}},
{"data":{"name":"bar"},"mark":{"type":"rect","width":19,"height":6.6},"encoding":{"x":{"datum":348.4,"type":"quantitative","scale":{"domain":[0,243.9],"nice":false,"zero":false},"axis":null},"y":{"field":"v","type":"quantitative","scale":{"domain":[-0.3,0.3],"range":[365,0],"nice":false,"zero":false},"axis":{"orient":"right","offset":172,"title":null,"values":[-0.3,-0.2,-0.1,0,0.1,0.2,0.3],"labelExpr":"datum.value<-0.001?'− '+format(-datum.value,'.1f'):format(abs(datum.value),'.1f')","domain":false,"labelFontSize":25,"labelOffset":2,"tickSize":4}},"color":{"field":"v","type":"quantitative","scale":{"domain":[-0.3,-0.18,-0.06,0,0.065,0.175,0.3],"range":["#000000","#0000ff","#00a800","#7f5400","#ff0000","#ffff00","#ffffff"],"interpolate":"rgb"},"legend":null}}},
{"data":{"values":[{"a0":342.3,"a1":354.5,"b0":-0.3,"b1":0.3}]},"mark":{"type":"rect","fill":null,"stroke":"#666","strokeWidth":1},"encoding":{"x":{"field":"a0","type":"quantitative","scale":{"domain":[0,243.9],"nice":false,"zero":false},"axis":null},"x2":{"field":"a1"},"y":{"field":"b0","type":"quantitative","scale":{"domain":[-0.3,0.3],"range":[365,0],"nice":false,"zero":false},"axis":null},"y2":{"field":"b1"}}},
{"data":{"values":[{"t":"e"}]},"mark":{"type":"square","fill":"white","stroke":"#666","strokeWidth":1.2,"size":1560,"opacity":1},"encoding":{"x":{"datum":-26.3,"type":"quantitative","scale":{"domain":[0,243.9],"nice":false,"zero":false},"axis":null},"y":{"datum":-37,"type":"quantitative","scale":{"domain":[244.5,0],"nice":false,"zero":false},"axis":null}}},
{"data":{"values":[{"t":"e"}]},"mark":{"type":"text","font":"DejaVu Serif","fontWeight":"bold","fontSize":27,"color":"#111","baseline":"middle"},"encoding":{"x":{"datum":-26.3,"type":"quantitative","scale":{"domain":[0,243.9],"nice":false,"zero":false},"axis":null},"y":{"datum":-37,"type":"quantitative","scale":{"domain":[244.5,0],"nice":false,"zero":false},"axis":null},"text":{"field":"t"}}},
{"data":{"values":[{"t":"strain [%]"}]},"mark":{"type":"text","font":"DejaVu Serif","fontWeight":"bold","fontSize":31,"color":"#111","baseline":"middle"},"encoding":{"x":{"datum":361,"type":"quantitative","scale":{"domain":[0,243.9],"nice":false,"zero":false},"axis":null},"y":{"datum":-40.4,"type":"quantitative","scale":{"domain":[244.5,0],"nice":false,"zero":false},"axis":null},"text":{"field":"t"}}}
],"resolve":{"scale":{"x":"independent","y":"independent"}}},
{"width":339,"height":357,"layer":[
{"data":{"values":[{"a0":0,"a1":216,"b0":0,"b1":245,"v":0}]},"mark":{"type":"rect"},"encoding":{"x":{"field":"a0","type":"quantitative","scale":{"domain":[0,216],"nice":false,"zero":false},"axis":{"orient":"top","title":"y [Å]","values":[0,50,100,150,200],"titleX":195,"titleY":-60}},"x2":{"field":"a1"},"y":{"field":"b0","type":"quantitative","scale":{"domain":[245,0],"nice":false,"zero":false},"axis":{"orient":"left","title":"x [Å]","values":[0,50,100,150,200],"titleAngle":-90,"titleX":-75,"titleY":175,"labelOffset":2}},"y2":{"field":"b1"},"color":{"field":"v","type":"quantitative","scale":{"domain":[-0.3,-0.18,-0.06,0,0.065,0.175,0.3],"range":["#000000","#0000ff","#00a800","#7f5400","#ff0000","#ffff00","#ffffff"],"interpolate":"rgb"},"legend":null}}},
{"data":{"values":[{"t":"f"}]},"mark":{"type":"square","fill":"white","stroke":"#666","strokeWidth":1.2,"size":1560,"opacity":1},"encoding":{"x":{"datum":-26.1,"type":"quantitative","scale":{"domain":[0,216],"nice":false,"zero":false},"axis":null},"y":{"datum":-37,"type":"quantitative","scale":{"domain":[245,0],"nice":false,"zero":false},"axis":null}}},
{"data":{"values":[{"t":"f"}]},"mark":{"type":"text","font":"DejaVu Serif","fontWeight":"bold","fontSize":27,"color":"#111","baseline":"middle"},"encoding":{"x":{"datum":-26.1,"type":"quantitative","scale":{"domain":[0,216],"nice":false,"zero":false},"axis":null},"y":{"datum":-37,"type":"quantitative","scale":{"domain":[245,0],"nice":false,"zero":false},"axis":null},"text":{"field":"t"}}}
],"resolve":{"scale":{"x":"independent","y":"independent"}}}
],"resolve":{"scale":{"color":"independent"}}}
